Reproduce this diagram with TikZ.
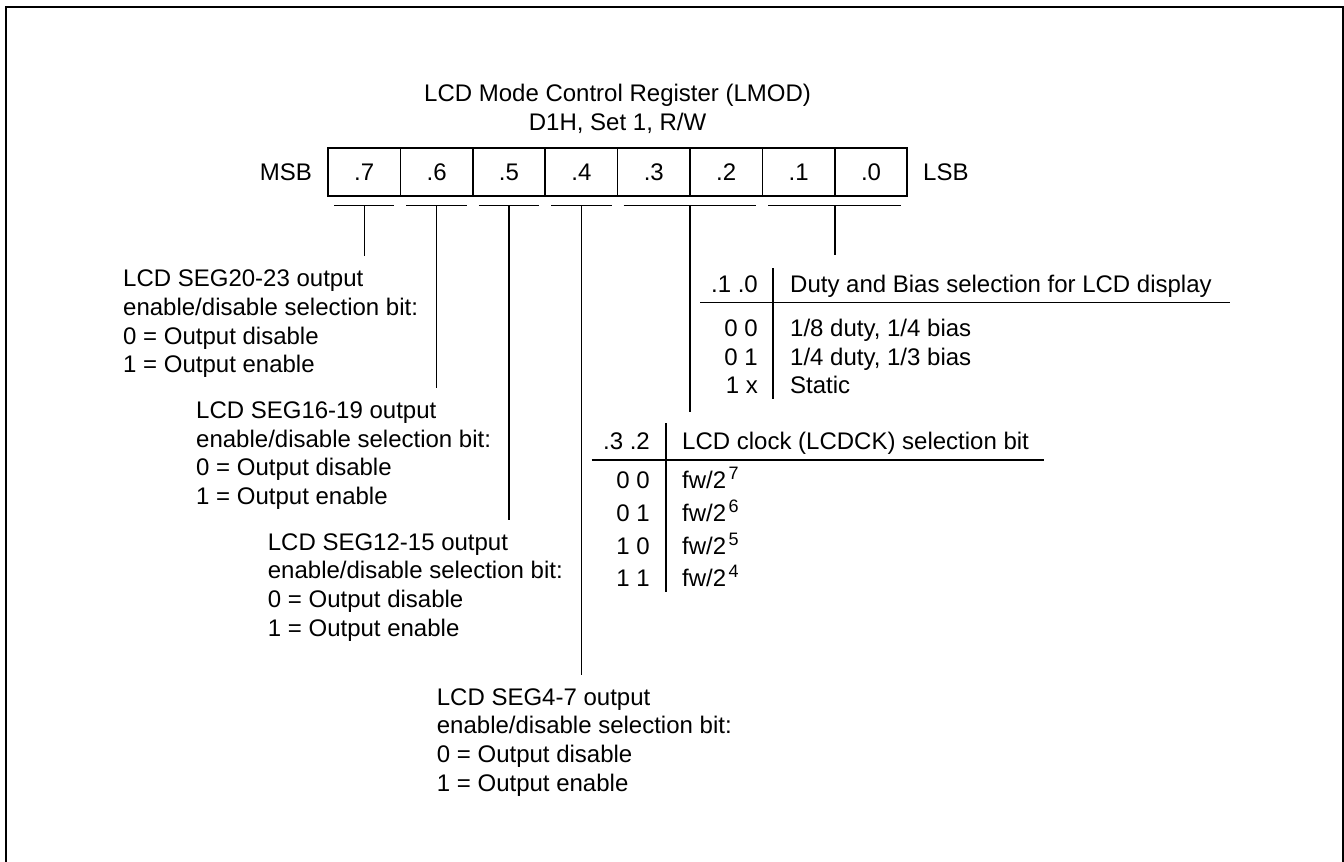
\documentclass[tikz,border=0pt]{standalone}
\usepackage{fontspec}
\setmainfont{Liberation Sans}
\newcommand{\sprs}[1]{\kern2.5pt\raisebox{9pt}{\fontsize{18}{18}\selectfont #1}}
\begin{document}
\begin{tikzpicture}[x=1pt,y=-1pt,
  txt/.style={inner sep=0pt, font=\fontsize{24}{28.7}\selectfont},
  blk/.style={txt, align=left, anchor=north west},
  bitcell/.style={draw, line width=1.5pt, minimum width=72.4pt, minimum height=48pt,
                  inner sep=0pt, font=\fontsize{24}{28.7}\selectfont},
  ln/.style={line width=1.4pt},
  tl/.style={line width=1.5pt},
  frameline/.style={line width=2pt}]
\useasboundingbox (0,0) rectangle (1344,862);
\clip (0,0) rectangle (1344,862);
% outer frame (open at the bottom of the view)
\coordinate (f1) at (6,880);
\coordinate (f2) at (6,6.5);
\coordinate (f3) at (1343,6.5);
\coordinate (f4) at (1343,880);
\draw[frameline] (f1) -- (f2) -- (f3) -- (f4);

% title
\node[txt, anchor=base] (title1) at (617.6,101.9) {LCD Mode Control Register (LMOD)};
\node[txt, anchor=base] (title2) at (617.6,130.3) {D1H, Set 1, R/W};

% register
\node[bitcell] (b7) at (364.2,172) {.7};
\node[bitcell] (b6) at (436.6,172) {.6};
\node[bitcell] (b5) at (509.0,172) {.5};
\node[bitcell] (b4) at (581.4,172) {.4};
\node[bitcell] (b3) at (653.8,172) {.3};
\node[bitcell] (b2) at (726.2,172) {.2};
\node[bitcell] (b1) at (798.6,172) {.1};
\node[bitcell] (b0) at (871.0,172) {.0};
\node[txt, anchor=base east] (msb) at (312,180.6) {MSB};
\node[txt, anchor=base west] (lsb) at (923,180.6) {LSB};

% underlines
\coordinate (u7a) at (334,205.3);   \coordinate (u7b) at (394.4,205.3);
\coordinate (u6a) at (406.4,205.3); \coordinate (u6b) at (466.8,205.3);
\coordinate (u5a) at (478.8,205.3); \coordinate (u5b) at (539.2,205.3);
\coordinate (u4a) at (551.2,205.3); \coordinate (u4b) at (611.6,205.3);
\coordinate (u32a) at (623.6,205.3); \coordinate (u32b) at (756.4,205.3);
\coordinate (u10a) at (768.4,205.3); \coordinate (u10b) at (901.2,205.3);
\foreach \s in {7,6,5,4,32,10} {\draw[ln] (u\s a) -- (u\s b);}

% connectors
\coordinate (c7) at (364.2,205.3);  \coordinate (e7) at (364.2,256);
\coordinate (c6) at (436.6,205.3);  \coordinate (e6) at (436.6,388);
\coordinate (c5) at (509.0,205.3);  \coordinate (e5) at (509.0,520);
\coordinate (c4) at (581.4,205.3);  \coordinate (e4) at (581.4,675);
\coordinate (c32) at (690,205.3);   \coordinate (e32) at (690,411.7);
\coordinate (c10) at (834.8,205.3); \coordinate (e10) at (834.8,255);
\foreach \s in {7,6,5,4,32,10} {\draw[ln] (c\s) -- (e\s);}

% descriptions
\node[blk] (seg20) at (123,269.7) {LCD SEG20-23 output\\enable/disable selection bit:\\0 = Output disable\\1 = Output enable};
\node[blk] (seg16) at (196,401.4) {LCD SEG16-19 output\\enable/disable selection bit:\\0 = Output disable\\1 = Output enable};
\node[blk] (seg12) at (267.7,533.1) {LCD SEG12-15 output\\enable/disable selection bit:\\0 = Output disable\\1 = Output enable};
\node[blk] (seg4) at (436.7,688.1) {LCD SEG4-7 output\\enable/disable selection bit:\\0 = Output disable\\1 = Output enable};

% table .1 .0
\node[txt, anchor=base east] (t1h) at (758,292.8) {.1 .0};
\node[txt, anchor=base west] (t1t) at (790,292.8) {Duty and Bias selection for LCD display};
\node[txt, anchor=base east] (t1a) at (758,336.4) {0 0};
\node[txt, anchor=base west] (t1ad) at (790,336.4) {1/8 duty, 1/4 bias};
\node[txt, anchor=base east] (t1b) at (758,365.1) {0 1};
\node[txt, anchor=base west] (t1bd) at (790,365.1) {1/4 duty, 1/3 bias};
\node[txt, anchor=base east] (t1c) at (758,393.8) {1 x};
\node[txt, anchor=base west] (t1cd) at (790,393.8) {Static};
\coordinate (t1hl) at (700,302.7);  \coordinate (t1hr) at (1230,302.7);
\coordinate (t1vt) at (773,268);    \coordinate (t1vb) at (773,399);
\draw[tl] (t1hl) -- (t1hr);
\draw[tl] (t1vt) -- (t1vb);

% table .3 .2
\node[txt, anchor=base east] (t2h) at (650,449) {.3 .2};
\node[txt, anchor=base west] (t2t) at (682,449) {LCD clock (LCDCK) selection bit};
\node[txt, anchor=base east] (t2a) at (650,488.5) {0 0};
\node[txt, anchor=base west] (t2ad) at (682,488.5) {fw/2\sprs{7}};
\node[txt, anchor=base east] (t2b) at (650,521.2) {0 1};
\node[txt, anchor=base west] (t2bd) at (682,521.2) {fw/2\sprs{6}};
\node[txt, anchor=base east] (t2c) at (650,554) {1 0};
\node[txt, anchor=base west] (t2cd) at (682,554) {fw/2\sprs{5}};
\node[txt, anchor=base east] (t2d) at (650,586.7) {1 1};
\node[txt, anchor=base west] (t2dd) at (682,586.7) {fw/2\sprs{4}};
\coordinate (t2hl) at (591.7,460);  \coordinate (t2hr) at (1044,460);
\coordinate (t2vt) at (666,423);    \coordinate (t2vb) at (666,592);
\draw[tl] (t2hl) -- (t2hr);
\draw[tl] (t2vt) -- (t2vb);
\end{tikzpicture}
\end{document}
